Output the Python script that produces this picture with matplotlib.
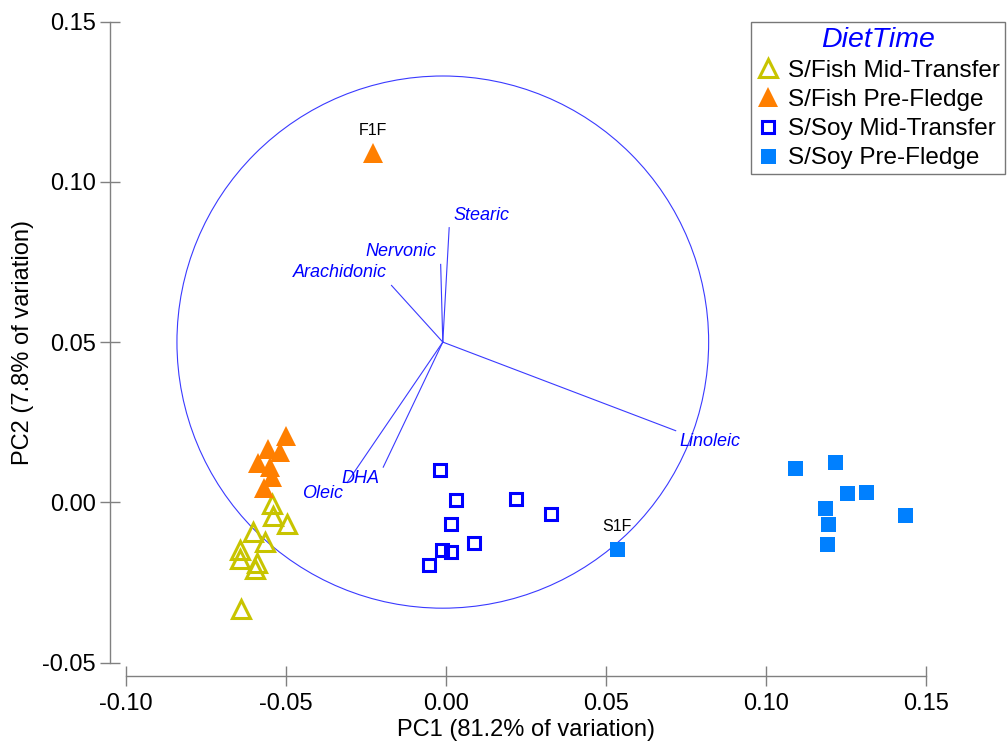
import numpy as np
import matplotlib
matplotlib.use("Agg")
import matplotlib.pyplot as plt
from matplotlib.patches import Circle

plt.rcParams['font.family'] = ['Liberation Sans', 'DejaVu Sans']

# PC scores for each group
fish_mid_x = [-0.0543, -0.0541, -0.0495, -0.0602, -0.0565, -0.0643, -0.0643, -0.0591, -0.0597, -0.0640]
fish_mid_y = [-0.0006, -0.0043, -0.0066, -0.0092, -0.0123, -0.0147, -0.0178, -0.0189, -0.0208, -0.0334]

fish_pre_x = [-0.0228, -0.0498, -0.0555, -0.0519, -0.0586, -0.0548, -0.0544, -0.0568]
fish_pre_y = [0.1090, 0.0208, 0.0165, 0.0156, 0.0122, 0.0111, 0.0080, 0.0044]

soy_mid_x = [-0.0019, 0.0030, 0.0220, 0.0327, 0.0017, 0.0088, -0.0014, 0.0017, -0.0053]
soy_mid_y = [0.0101, 0.0007, 0.0010, -0.0037, -0.0066, -0.0128, -0.0149, -0.0154, -0.0194]

soy_pre_x = [0.0534, 0.1091, 0.1216, 0.1253, 0.1312, 0.1182, 0.1192, 0.1432, 0.1189]
soy_pre_y = [-0.0144, 0.0108, 0.0127, 0.0030, 0.0031, -0.0019, -0.0066, -0.0040, -0.0130]

# labelled samples
sample_names = ["F1F", "S1F"]
sample_x = [-0.0228, 0.0534]
sample_y = [0.1090, -0.0144]

# fatty acid vectors, as fractions of the circle radius
fatty_acids = ["Stearic", "Nervonic", "Arachidonic", "Linoleic", "DHA", "Oleic"]
load_x = [0.024, -0.008, -0.193, 0.876, -0.224, -0.360]
load_y = [0.430, 0.292, 0.213, -0.333, -0.470, -0.528]

circle_centre = (-0.001, 0.050)
circle_radius = 0.083

fig = plt.figure(figsize=(10.08, 7.44), dpi=100)
ax = fig.add_axes([0.1247, 0.1093, 0.7944, 0.8618])
ax.set_xlim(-0.10, 0.15)
ax.set_ylim(-0.05, 0.15)

# vector overlay
ax.add_patch(Circle(circle_centre, circle_radius, fill=False, ec='#3a3aff', lw=0.8, zorder=1))
for name, lx, ly in zip(fatty_acids, load_x, load_y):
    ex = circle_centre[0] + lx*circle_radius
    ey = circle_centre[1] + ly*circle_radius
    ax.plot([circle_centre[0], ex], [circle_centre[1], ey], color='#3a3aff', lw=0.8, zorder=1)
    dx = 3 if lx > 0 else -3
    dy = 9 if ly > 0 else -8
    ax.annotate(name, (ex, ey), xytext=(dx, dy), textcoords='offset points',
                ha='left' if lx > 0 else 'right', va='center',
                color='blue', fontsize=13, style='italic')

ax.plot(fish_mid_x, fish_mid_y, '^', ls='none', ms=12.5, mfc='none', mec='#c8c400', mew=2.2,
        label="S/Fish Mid-Transfer", zorder=3)
ax.plot(fish_pre_x, fish_pre_y, '^', ls='none', ms=14.5, color='#ff7f00', mew=0,
        label="S/Fish Pre-Fledge", zorder=3)
ax.plot(soy_mid_x, soy_mid_y, 's', ls='none', ms=9, mfc='none', mec='#0000ff', mew=2.2,
        label="S/Soy Mid-Transfer", zorder=3)
ax.plot(soy_pre_x, soy_pre_y, 's', ls='none', ms=10.8, color='#0080ff', mew=0,
        label="S/Soy Pre-Fledge", zorder=3)

for name, sx, sy in zip(sample_names, sample_x, sample_y):
    ax.annotate(name, (sx, sy), xytext=(0, 16), textcoords='offset points',
                ha='center', va='center', fontsize=11.5, color='black')

# detached axis lines
for side in ['top', 'right']:
    ax.spines[side].set_visible(False)
ax.spines['left'].set_position(('outward', 11.3))
ax.spines['bottom'].set_position(('outward', 9.4))
ax.spines['left'].set_bounds(-0.05, 0.15)
ax.spines['bottom'].set_bounds(-0.10, 0.15)
for side in ['left', 'bottom']:
    ax.spines[side].set_color('#808080')
    ax.spines[side].set_linewidth(1.0)

ax.set_xticks(np.arange(-0.10, 0.151, 0.05))
ax.set_yticks(np.arange(-0.05, 0.151, 0.05))
ax.set_xticklabels(["-0.10", "-0.05", "0.00", "0.05", "0.10", "0.15"])
ax.set_yticklabels(["-0.05", "0.00", "0.05", "0.10", "0.15"])
ax.tick_params(direction='inout', length=13.7, width=1.0, color='#808080',
               labelsize=17, pad=3.5)
ax.tick_params(axis='x', pad=5.5)

ax.set_xlabel("PC1 (81.2% of variation)", fontsize=17, labelpad=3)
ax.set_ylabel("PC2 (7.8% of variation)", fontsize=17, labelpad=6)

leg = ax.legend(loc='upper right', bbox_to_anchor=(1005/1008, 1 - 22/744),
                bbox_transform=fig.transFigure, borderaxespad=0, fontsize=17.5,
                title="DietTime", title_fontproperties={'style': 'italic', 'size': 20.5},
                fancybox=False, framealpha=1, edgecolor='#777777', numpoints=1,
                handlelength=1.0, handletextpad=0.35, labelspacing=0.29, borderpad=0.2)
leg.get_title().set_color('blue')
leg.get_frame().set_linewidth(1.0)

fig.savefig("out.png", dpi=100)
